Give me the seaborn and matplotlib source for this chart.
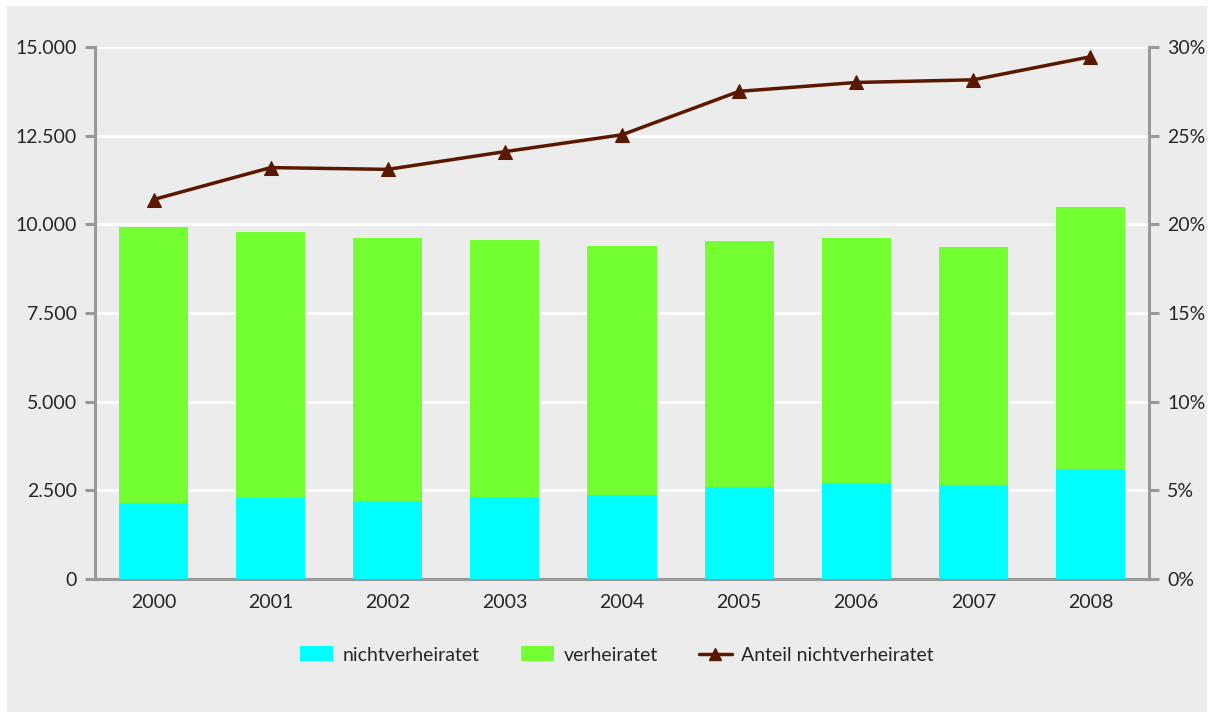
import numpy as np
import pandas as pd
import matplotlib
matplotlib.use("Agg")
import matplotlib.pyplot as plt
import seaborn as sns
from matplotlib.patches import Rectangle, Patch
from matplotlib.lines import Line2D
from matplotlib.ticker import FuncFormatter, FixedLocator

# Daten
years = ['2000', '2001', '2002', '2003', '2004', '2005', '2006', '2007', '2008']
nichtverheiratet = [2140, 2280, 2200, 2310, 2370, 2590, 2710, 2650, 3100]
verheiratet = [7790, 7500, 7420, 7250, 7020, 6940, 6910, 6710, 7390]
anteil = [21.4, 23.2, 23.1, 24.1, 25.05, 27.5, 28.0, 28.15, 29.45]

sns.set_style("white")
plt.rcParams['font.family'] = ['Lato', 'DejaVu Sans']

bg = '#ebeceb'
c_nv = '#00ffff'
c_v = '#74ff33'
c_line = '#5a1800'
c_axis = '#999999'

df = pd.DataFrame({'jahr': years, 'nv': nichtverheiratet, 'v': verheiratet, 'anteil': anteil})
df['gesamt'] = df['nv'] + df['v']

fig = plt.figure(figsize=(12.13, 7.15), dpi=100, facecolor='white')
fig.patches.append(Rectangle((7 / 1213, 3 / 715), 1200 / 1213, 706 / 715,
                             transform=fig.transFigure, facecolor=bg, edgecolor='none', zorder=-10))

ax = fig.add_axes([95 / 1213, (715 - 579) / 715, (1149 - 95) / 1213, (579 - 47) / 715])
ax.set_facecolor(bg)

# gestapelte Balken
sns.barplot(data=df, x='jahr', y='gesamt', color=c_v, width=0.59, saturation=1,
            linewidth=0, ax=ax, zorder=2)
sns.barplot(data=df, x='jahr', y='nv', color=c_nv, width=0.59, saturation=1,
            linewidth=0, ax=ax, zorder=3)

ax.set_xlim(-0.5, len(years) - 0.5)
ax.set_ylim(0, 15000)
ax.set_yticks(np.arange(0, 15001, 2500))
ax.yaxis.set_major_formatter(FuncFormatter(lambda v, p: f"{int(v):,}".replace(',', '.')))
ax.yaxis.grid(True, color='white', linewidth=2)
ax.set_axisbelow(True)
ax.set_xlabel('')
ax.set_ylabel('')

for s in ['top', 'right']:
    ax.spines[s].set_visible(False)
for s in ['left', 'bottom']:
    ax.spines[s].set_color(c_axis)
    ax.spines[s].set_linewidth(2.2)

ax.tick_params(axis='x', which='major', length=0, pad=11, labelsize=14)
ax.xaxis.set_minor_locator(FixedLocator(np.arange(-0.5, len(years), 1)))
ax.tick_params(axis='x', which='minor', length=7, width=2.2, color=c_axis, direction='out')
ax.tick_params(axis='y', length=7, width=2.2, color=c_axis, direction='out', labelsize=14, pad=6)

# Anteil auf rechter Achse
ax2 = ax.twinx()
sns.lineplot(data=df, x='jahr', y='anteil', ax=ax2, color=c_line, linewidth=2.5,
             marker='^', markersize=10, markeredgecolor=c_line, zorder=5)
ax2.set_ylim(0, 30)
ax2.set_yticks(np.arange(0, 31, 5))
ax2.yaxis.set_major_formatter(FuncFormatter(lambda v, p: f"{int(v)}%"))
ax2.set_ylabel('')
ax2.set_xlabel('')
for s in ['top', 'left', 'bottom']:
    ax2.spines[s].set_visible(False)
ax2.spines['right'].set_color(c_axis)
ax2.spines['right'].set_linewidth(2.2)
ax2.tick_params(axis='y', length=7, width=2.2, color=c_axis, direction='out', labelsize=14, pad=6)
ax2.set_xlim(-0.5, len(years) - 0.5)

handles = [Patch(facecolor=c_nv, edgecolor='none'),
           Patch(facecolor=c_v, edgecolor='none'),
           Line2D([0], [0], color=c_line, linewidth=2.5, marker='^', markersize=9)]
labels = ['nichtverheiratet', 'verheiratet', 'Anteil nichtverheiratet']
fig.legend(handles, labels, loc='center', bbox_to_anchor=(617 / 1213, 1 - 655 / 715),
           ncol=3, frameon=False, fontsize=14, handlelength=1.7, handleheight=0.8,
           columnspacing=2.1, handletextpad=0.5)

fig.savefig('out.png', dpi=100, facecolor='white')
